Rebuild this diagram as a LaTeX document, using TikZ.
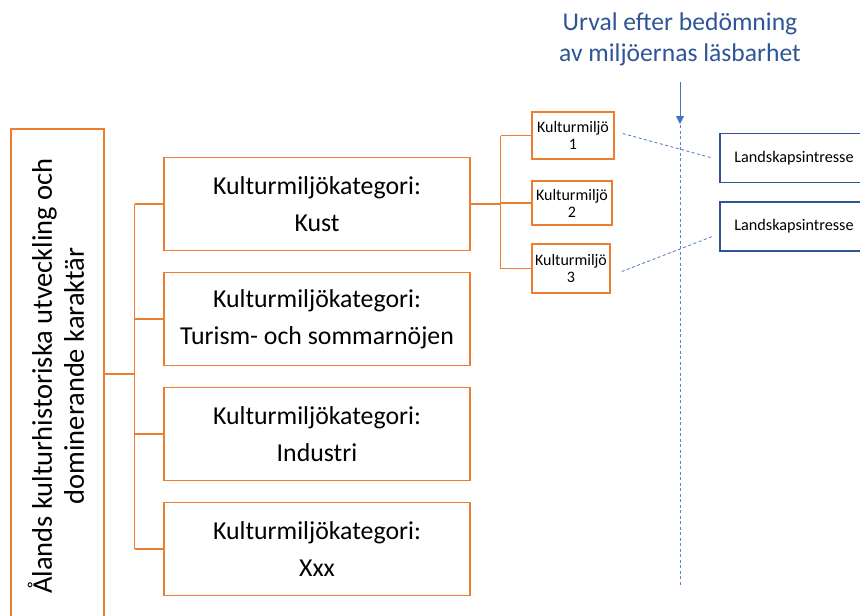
\documentclass[tikz,border=0pt]{standalone}
\usepackage{fontspec}
\setmainfont{Carlito}
\usetikzlibrary{arrows.meta}
\definecolor{orangeline}{HTML}{ED7D31}
\definecolor{darkblue}{HTML}{2F5597}
\definecolor{lightblue}{HTML}{5B86C5}
\definecolor{arrowblue}{HTML}{4472C4}
\tikzset{
    orgline/.style={orangeline, line width=1.4pt},
    katbox/.style={draw=orangeline, line width=1.4pt, minimum width=306pt, minimum height=93pt,
        align=center, font=\fontsize{25.8}{37}\selectfont},
    miljobox/.style={draw=orangeline, line width=1.4pt, inner sep=0pt,
        align=center, font=\fontsize{16}{17}\selectfont},
    landbox/.style={draw=darkblue, line width=1.4pt, minimum width=148pt, minimum height=49pt,
        font=\fontsize{16.2}{16}\selectfont},
    dashline/.style={lightblue, line width=0.9pt, dash pattern=on 3pt off 2.5pt}
}
\begin{document}
\begin{tikzpicture}[x=1pt, y=-1pt]
        \useasboundingbox (0,0) rectangle (860,616);
        % left column
        \node[draw=orangeline, line width=1.4pt, minimum width=93pt, minimum height=490pt] (aland) at (57.5,374) {};
        \node[rotate=90, align=center, font=\fontsize{28.5}{32}\selectfont] (alandtxt) at (56,376)
            {Ålands kulturhistoriska utveckling och\\dominerande karaktär};
        % categories
        \foreach \name/\txt [count=\i] in {kust/Kust, turism/Turism- och sommarnöjen, industri/Industri, xxx/Xxx} {
            \node[katbox] (\name) at (317, 204 + 115*\i - 115) {Kulturmiljökategori:\\\txt};
        }
        \draw[orgline] (aland.east) -- ++(30,0) coordinate (trunk);
        \draw[orgline] (trunk |- kust.west) -- (trunk |- xxx.west);
        \foreach \name in {kust, turism, industri, xxx} {
            \draw[orgline] (trunk |- \name.west) -- (\name.west);
        }
        % kulturmiljoer
        \node[miljobox, minimum width=82pt, minimum height=47pt] (m1) at (573,135.5) {Kulturmiljö\\1};
        \node[miljobox, minimum width=80pt, minimum height=44pt] (m2) at (572,203) {Kulturmiljö\\2};
        \node[miljobox, minimum width=78pt, minimum height=49pt] (m3) at (571,268.5) {Kulturmiljö\\3};
        \draw[orgline] (kust.east) -- ++(30,0) coordinate (ktrunk);
        \draw[orgline] (ktrunk |- m1.west) -- (ktrunk |- m3.west);
        \foreach \name in {m1, m2, m3} {
            \draw[orgline] (ktrunk |- \name.west) -- (\name.west);
        }
        % urval
        \node[darkblue, align=center, font=\fontsize{25.6}{31}\selectfont] (urval) at (680,39)
            {Urval efter bedömning\\av miljöernas läsbarhet};
        \coordinate (seltop) at (680,125);
        \coordinate (selbot) at (680,587);
        \draw[arrowblue, line width=1pt, -{Triangle[length=8pt, width=8pt]}, shorten <=13pt] (urval.south) -- ([yshift=1pt]seltop);
        \draw[dashline] (seltop) -- (selbot);
        % landskapsintressen
        \node[landbox] (l1) at (794,158) {Landskapsintresse};
        \node[landbox] (l2) at (794,226.5) {Landskapsintresse};
        \draw[dashline] ([shift={(8,-2)}]m1.east) -- ([shift={(-7,0)}]l1.west);
        \draw[dashline] ([shift={(11,3)}]m3.east) -- ([shift={(-7,10)}]l2.west);
    \end{tikzpicture}
\end{document}
